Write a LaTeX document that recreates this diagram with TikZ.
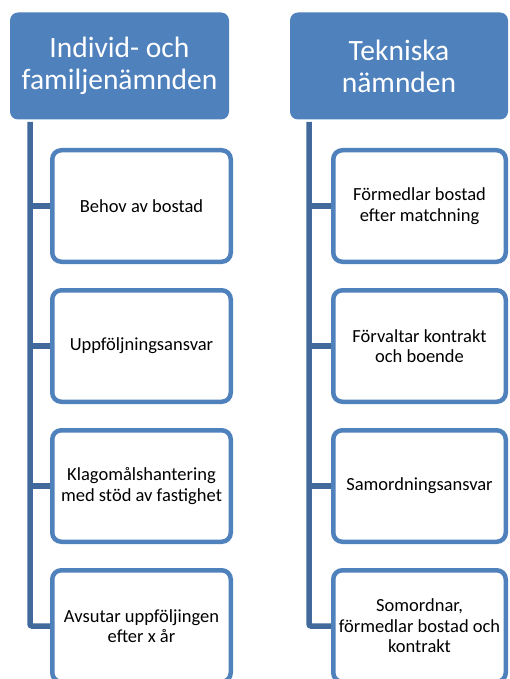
\documentclass[tikz,border=0pt]{standalone}
\usepackage{fontspec}
\setmainfont{Carlito}
\usetikzlibrary{positioning,backgrounds}
\definecolor{headblue}{HTML}{4F81BD}
\definecolor{lineblue}{HTML}{41699B}
\tikzset{
	head/.style = {rectangle,rounded corners=8pt,fill=headblue,text=white,minimum width=219pt,minimum height=107pt,align=center,font=\fontsize{29.5}{32}\selectfont},
	task/.style = {rectangle,rounded corners=9pt,draw=headblue,line width=4.5pt,fill=white,minimum width=178.5pt,minimum height=111.5pt,align=center,font=\fontsize{18.5}{20.5}\selectfont},
	link/.style = {draw=lineblue,line width=5.5pt,rounded corners=2pt}
}
\begin{document}
\begin{tikzpicture}[x=1pt,y=-1pt]
		\clip (0,0) rectangle (509,679);
		\path [use as bounding box] (0,0) rectangle (509,679);
		% left column
		\node (famhead) at (119.5,66) [head] {Individ- och\\familjenämnden};
		\coordinate (famline) at (30,122);
		\node (fam1) at (141.5,206) [task] {Behov av bostad};
		\node (fam2) at (141.5,346) [task] {Uppföljningsansvar};
		\node (fam3) at (141.5,486) [task] {Klagomålshantering\\med stöd av fastighet};
		\node (fam4) at (141.5,626) [task] {Avsutar uppföljingen\\efter x år};
		% right column
		\node (tekhead) at (399,66) [head,minimum width=218pt] {Tekniska\\nämnden};
		\coordinate (tekline) at (309,122);
		\node (tek1) at (419.5,206) [task,minimum width=172.5pt] {Förmedlar bostad\\efter matchning};
		\node (tek2) at (419.5,346) [task,minimum width=172.5pt] {Förvaltar kontrakt\\och boende};
		\node (tek3) at (419.5,486) [task,minimum width=172.5pt] {Samordningsansvar};
		\node (tek4) at (419.5,626) [task,minimum width=172.5pt] {Somordnar,\\förmedlar bostad och\\kontrakt};
		% connectors behind the boxes
		\begin{scope}[on background layer]
		\path [link] (famline) |- (fam4.west);
		\path [link] (famline |- fam1.west) -- (fam1.west);
		\path [link] (famline |- fam2.west) -- (fam2.west);
		\path [link] (famline |- fam3.west) -- (fam3.west);
		\path [link] (tekline) |- (tek4.west);
		\path [link] (tekline |- tek1.west) -- (tek1.west);
		\path [link] (tekline |- tek2.west) -- (tek2.west);
		\path [link] (tekline |- tek3.west) -- (tek3.west);
		\end{scope}
	\end{tikzpicture}
\end{document}
